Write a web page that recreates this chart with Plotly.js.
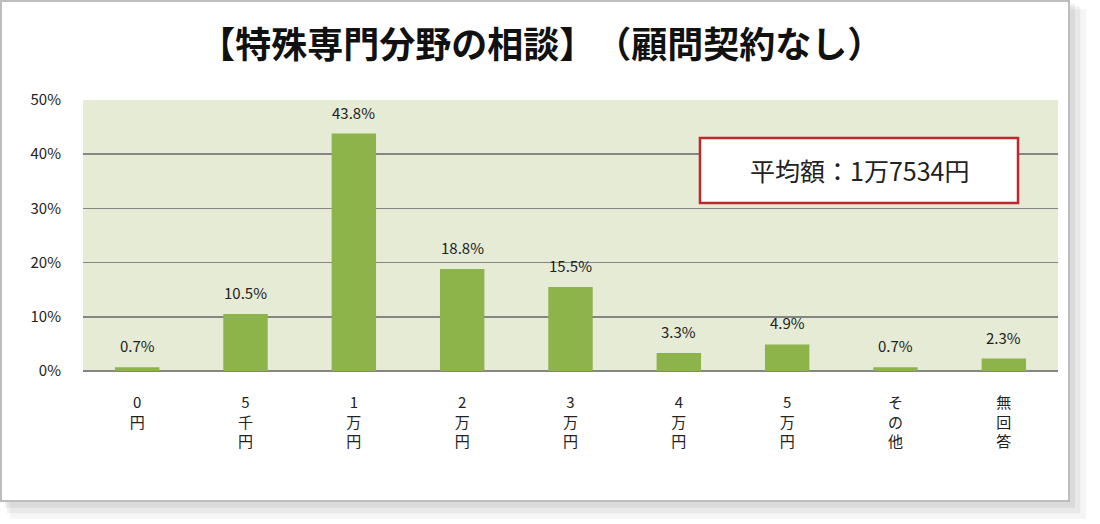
<!DOCTYPE html>
<html>
<head>
<meta charset="utf-8">
<script src="https://cdn.plot.ly/plotly-3.0.1.min.js"></script>
<style>html,body{margin:0;padding:0;background:#fff;}#chart{width:1100px;height:524px;}</style>
</head>
<body>
<div id="chart"></div>
<script>
const categories = ['0円','5千円','1万円','2万円','3万円','4万円','5万円','その他','無回答'];
const values = [0.7, 10.5, 43.8, 18.8, 15.5, 3.3, 4.9, 0.7, 2.3];
const valueLabels = ['0.7%','10.5%','43.8%','18.8%','15.5%','3.3%','4.9%','0.7%','2.3%'];
const yTicks = [0, 10, 20, 30, 40, 50];
const yTickLabels = ['0%','10%','20%','30%','40%','50%'];
const titleText = '【特殊専門分野の相談】　（顧問契約なし）';
const noteText = '平均額：1万7534円';

const font = '"Noto Sans CJK JP", "Noto Sans", sans-serif';
const tickText = categories.map(c => c.split('').join('<br>'));

const trace = {
  type: 'bar',
  x: categories,
  y: values,
  marker: {color: '#8db34b'},
  hoverinfo: 'none'
};

const valueAnnotations = categories.map((c, i) => ({
  x: c, y: values[i], xref: 'x', yref: 'y',
  text: valueLabels[i], showarrow: false,
  xanchor: 'center', yanchor: 'bottom', yshift: 9,
  font: {family: font, size: 15, color: '#222'}
}));

const layout = {
  width: 1100, height: 524,
  margin: {l: 83, r: 42, t: 100, b: 153},
  paper_bgcolor: '#ffffff',
  plot_bgcolor: 'rgba(0,0,0,0)',
  showlegend: false,
  bargap: 0.59,
  title: {
    text: titleText,
    font: {family: font, size: 36, color: '#111', weight: 'bold'},
    x: 0.492, xref: 'container', xanchor: 'center',
    y: 0.914, yref: 'container', yanchor: 'middle'
  },
  xaxis: {
    tickvals: categories,
    ticktext: tickText,
    tickfont: {family: font, size: 15, color: '#222'},
    showgrid: false, zeroline: false, showline: false,
    ticks: 'outside', ticklen: 18, tickcolor: 'rgba(0,0,0,0)',
    fixedrange: true
  },
  yaxis: {
    range: [0, 50],
    tickvals: yTicks,
    ticktext: yTickLabels,
    tickfont: {family: font, size: 15, color: '#222'},
    showgrid: true, gridcolor: '#858585', gridwidth: 1.5,
    zeroline: true, zerolinecolor: '#858585', zerolinewidth: 1.5,
    showline: false,
    ticks: 'outside', ticklen: 18, tickcolor: 'rgba(0,0,0,0)',
    fixedrange: true
  },
  shapes: [
    {type:'rect', xref:'paper', yref:'paper', x0:-0.075, x1:1.0290, y0:1.335, y1:-0.545, line:{width:0}, fillcolor:'rgba(0,0,0,0.04)', layer:'below'},
    {type:'rect', xref:'paper', yref:'paper', x0:-0.078, x1:1.0230, y0:1.345, y1:-0.525, line:{width:0}, fillcolor:'rgba(0,0,0,0.05)', layer:'below'},
    {type:'rect', xref:'paper', yref:'paper', x0:-0.080, x1:1.0175, y0:1.355, y1:-0.505, line:{width:0}, fillcolor:'rgba(0,0,0,0.06)', layer:'below'},
    {type:'rect', xref:'paper', yref:'paper', x0:-0.0841, x1:1.0113, y0:1.3653, y1:-0.4797, line:{width:2, color:'#bdbdbd'}, fillcolor:'#ffffff', layer:'below'},
    {type:'rect', xref:'paper', yref:'paper', x0:0, x1:1, y0:0, y1:1, line:{width:0}, fillcolor:'#e5ebd5', layer:'below'},
    {type:'rect', xref:'paper', yref:'paper', x0:0.6328, x1:0.959, y0:0.8598, y1:0.6199, line:{width:2.5, color:'#c0272d'}, fillcolor:'#ffffff', layer:'above'}
  ],
  annotations: valueAnnotations.concat([
    {xref:'paper', yref:'paper', x:0.796, y:0.7417, xanchor:'center', yanchor:'middle', showarrow:false,
     text: noteText, font:{family: font, size: 25, color:'#222'}}
  ])
};

Plotly.newPlot('chart', [trace], layout, {displayModeBar: false, staticPlot: true});
</script>
</body>
</html>
